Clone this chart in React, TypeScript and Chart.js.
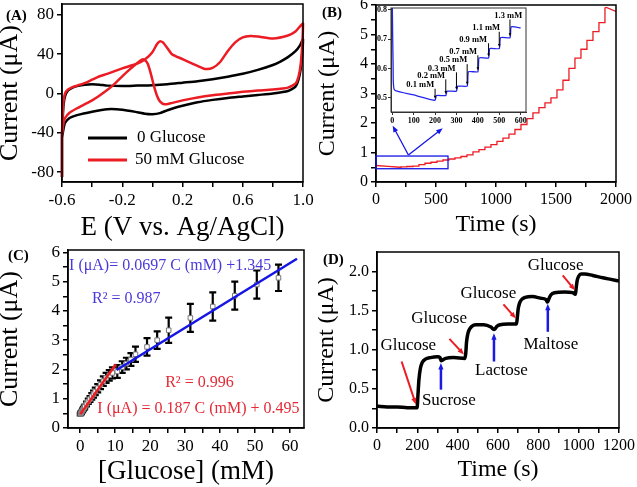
import React, { useEffect, useRef } from 'react';
import { Chart, registerables } from 'chart.js';
Chart.register(...registerables);

const SERIF = "'Liberation Serif', 'Times New Roman', serif";
const RED = '#ec1c24';
const BLUE = '#1515e6';
const TXT_BLUE = '#4a3ad8';
const TXT_RED = '#e32a36';

// ---------------- Panel A : cyclic voltammograms ----------------
const aBlackE = [-0.6, -0.6, -0.595, -0.59, -0.58, -0.56, -0.53, -0.5, -0.45, -0.4, -0.35, -0.3, -0.2, -0.1, 0.0, 0.1, 0.2, 0.3, 0.4, 0.5, 0.6, 0.7, 0.8, 0.85, 0.9, 0.95, 0.98, 1.0, 0.995, 0.985, 0.97, 0.95, 0.9, 0.8, 0.7, 0.6, 0.5, 0.4, 0.3, 0.2, 0.15, 0.1, 0.05, 0.0, -0.05, -0.1, -0.2, -0.3, -0.4, -0.5, -0.55, -0.58, -0.59, -0.6];
const aBlackI = [-85, -45, -25, -12, -3, 3, 6, 7.5, 9, 9.5, 9, 8, 7.5, 8, 8.5, 9.5, 11, 12.5, 14.5, 17, 20, 24, 29, 32.5, 37, 43, 49, 55, 40, 25, 14, 7, 2.5, 0, -1.5, -3, -4.5, -6.5, -9, -12.5, -14.5, -17, -20, -21, -20.5, -19, -16.5, -16, -18.5, -22, -25, -30, -36, -45];
const aRedE = [-0.6, -0.6, -0.595, -0.59, -0.58, -0.56, -0.53, -0.5, -0.45, -0.4, -0.35, -0.3, -0.2, -0.1, -0.05, 0.0, 0.03, 0.05, 0.07, 0.1, 0.13, 0.2, 0.3, 0.35, 0.4, 0.45, 0.5, 0.55, 0.6, 0.65, 0.7, 0.8, 0.9, 0.95, 1.0, 0.995, 0.985, 0.97, 0.95, 0.9, 0.8, 0.7, 0.6, 0.5, 0.4, 0.3, 0.2, 0.12, 0.08, 0.05, 0.03, 0.01, -0.01, -0.03, -0.05, -0.07, -0.1, -0.15, -0.2, -0.26, -0.3, -0.35, -0.4, -0.45, -0.5, -0.55, -0.58, -0.59, -0.6];
const aRedI = [-85, -42, -20, -8, 0, 4, 6.5, 8, 10.5, 14, 17.5, 20, 25.5, 30.5, 34.5, 42, 50, 53, 52, 46, 40, 35, 28, 25, 26, 32, 43, 52, 57, 58.5, 58, 56, 59, 63, 71, 50, 30, 17, 10, 6, 4, 3, 1.7, 0, -1.7, -4, -7, -10, -11, -8, -2, 8, 20, 30, 34, 34.5, 31, 24.5, 17.5, 8.5, 3.5, -2, -7, -11, -15, -19.5, -25, -30, -42];
const aXTicks = [-0.6, -0.4, -0.2, 0, 0.2, 0.4, 0.6, 0.8, 1.0];
const aXLabels = ['-0.6', '', '-0.2', '', '0.2', '', '0.6', '', '1.0'];
const aYTicks = [-80, -40, 0, 40, 80];
const aYLabels = ['-80', '-40', '0', '40', '80'];
const aLegend = ['0 Glucose', '50 mM Glucose'];

// ---------------- Panel B : amperometric staircase ----------------
const bStartT = [0, 100, 200];
const bStartI = [0.56, 0.53, 0.5];
const bStepT = [200, 250, 300, 350, 400, 450, 500, 550, 600, 650, 700, 750, 800, 850, 900, 950, 1000, 1050, 1100, 1150, 1200, 1250, 1300, 1350, 1400, 1450, 1500, 1550, 1600, 1650, 1700, 1750, 1800, 1850, 1900];
const bStepLevel = [0.51, 0.525, 0.54, 0.59, 0.635, 0.67, 0.705, 0.745, 0.78, 0.82, 0.865, 0.92, 1.02, 1.1, 1.18, 1.27, 1.38, 1.49, 1.62, 1.78, 1.95, 2.15, 2.34, 2.52, 2.68, 2.85, 3.12, 3.45, 3.85, 4.2, 4.5, 4.8, 5.1, 5.4, 5.9];
const bEndT = [1920, 2000];
const bEndI = [5.92, 5.78];
const bXTicks = [0, 250, 500, 750, 1000, 1250, 1500, 1750, 2000];
const bXLabels = ['0', '', '500', '', '1000', '', '1500', '', '2000'];
const bYTicks = [0, 0.5, 1, 1.5, 2, 2.5, 3, 3.5, 4, 4.5, 5, 5.5, 6];
const bYLabels = ['0', '', '1', '', '2', '', '3', '', '4', '', '5', '', '6'];
const bBox = [0, 600, 0.45, 0.88]; // t0, t1, I0, I1
const bZoomArrows = [[270, 0.915, 139, 1.91], [270, 0.915, 556, 1.82]];

// inset
const insetStartT = [0, 4, 10, 100, 200];
const insetStartI = [0.82, 0.6, 0.527, 0.51, 0.492];
const insetStepT = [200, 250, 300, 350, 400, 450, 500, 550];
const insetStepLevel = [0.508, 0.523, 0.54, 0.589, 0.636, 0.668, 0.705, 0.742];
const insetEndT = [600];
const insetEndI = [0.738];
const insetLabels = ['0.1 mM', '0.2 mM', '0.3 mM', '0.5 mM', '0.7 mM', '0.9 mM', '1.1 mM', '1.3 mM'];
const insetLabelT = [196, 247, 296, 350, 396, 443, 504, 607];
const insetLabelI = [0.544, 0.576, 0.6, 0.628, 0.658, 0.699, 0.738, 0.78];
const insetXTicks = [0, 100, 200, 300, 400, 500, 600];
const insetXLabels = ['0', '100', '200', '300', '400', '500', '600'];
const insetYTicks = [0.5, 0.6, 0.7, 0.8];
const insetYLabels = ['0.5', '0.6', '0.7', '0.8'];

// ---------------- Panel C : calibration ----------------
const cConc = [0, 0.1, 0.2, 0.3, 0.5, 0.7, 0.9, 1.1, 1.3, 1.8, 2.3, 2.8, 3.3, 3.8, 4.3, 5.0, 5.8, 6.6, 7.4, 8.3, 9.2, 10.6, 12.0, 13.2, 14.5, 15.8, 19.1, 22.0, 25.3, 31.5, 37.9, 44.2, 50.5, 56.7];
const cCurrent = [0.47, 0.49, 0.51, 0.53, 0.57, 0.61, 0.65, 0.69, 0.73, 0.82, 0.91, 0.99, 1.08, 1.16, 1.25, 1.36, 1.48, 1.6, 1.71, 1.8, 1.88, 1.93, 2.08, 2.2, 2.34, 2.52, 2.77, 3.0, 3.34, 3.76, 4.15, 4.52, 4.9, 5.13];
const cError = [0.04, 0.04, 0.05, 0.05, 0.05, 0.06, 0.06, 0.07, 0.07, 0.08, 0.09, 0.1, 0.11, 0.12, 0.13, 0.14, 0.15, 0.16, 0.17, 0.18, 0.19, 0.22, 0.2, 0.2, 0.22, 0.26, 0.3, 0.3, 0.43, 0.48, 0.48, 0.48, 0.48, 0.45];
const cRedFitX = [0, 10.2];
const cRedFitY = [0.47, 2.18];
const cBlueFitX = [10.4, 62];
const cBlueFitY = [1.98, 5.78];
const cXTicks = [0, 5, 10, 15, 20, 25, 30, 35, 40, 45, 50, 55, 60];
const cXLabels = ['0', '', '10', '', '20', '', '30', '', '40', '', '50', '', '60'];
const cYTicks = [0, 0.5, 1, 1.5, 2, 2.5, 3, 3.5, 4, 4.5, 5, 5.5, 6];
const cYLabels = ['0', '', '1', '', '2', '', '3', '', '4', '', '5', '', '6'];
const cNotes = ['I (μA)= 0.0697 C (mM) +1.345', 'R² = 0.987', 'R² = 0.996', 'I (μA) = 0.187 C (mM) + 0.495'];
const cNoteX = [-3.2, 3.4, 24.3, 4.9];
const cNoteY = [5.53, 4.43, 1.53, 0.67];
const cNoteColor = [TXT_BLUE, TXT_BLUE, TXT_RED, TXT_RED];

// ---------------- Panel D : interference test ----------------
const dT = [0, 50, 100, 150, 199, 203, 208, 215, 225, 240, 265, 300, 312, 318, 326, 340, 380, 436, 440, 444, 450, 458, 470, 490, 530, 565, 580, 586, 595, 610, 650, 692, 696, 700, 706, 716, 735, 770, 810, 838, 846, 852, 862, 880, 930, 970, 984, 988, 993, 1000, 1012, 1030, 1070, 1120, 1160, 1200];
const dI = [0.28, 0.27, 0.27, 0.26, 0.26, 0.42, 0.62, 0.76, 0.84, 0.88, 0.9, 0.91, 0.9, 0.86, 0.87, 0.89, 0.9, 0.89, 0.95, 1.1, 1.2, 1.26, 1.3, 1.32, 1.32, 1.29, 1.26, 1.27, 1.3, 1.32, 1.33, 1.33, 1.42, 1.52, 1.59, 1.64, 1.67, 1.68, 1.66, 1.64, 1.61, 1.65, 1.7, 1.73, 1.74, 1.73, 1.71, 1.8, 1.89, 1.94, 1.97, 1.97, 1.95, 1.92, 1.9, 1.88];
const dXTicks = [0, 100, 200, 300, 400, 500, 600, 700, 800, 900, 1000, 1100, 1200];
const dXLabels = ['0', '', '200', '', '400', '', '600', '', '800', '', '1000', '', '1200'];
const dYTicks = [0, 0.25, 0.5, 0.75, 1, 1.25, 1.5, 1.75, 2];
const dYLabels = ['0.0', '', '0.5', '', '1.0', '', '1.5', '', '2.0'];
const dNotes = ['Glucose', 'Sucrose', 'Glucose', 'Lactose', 'Glucose', 'Maltose', 'Glucose'];
const dNoteT = [155, 356, 308, 617, 552, 862, 886];
const dNoteI = [1.06, 0.35, 1.4, 0.73, 1.72, 1.07, 2.08];
const dRedArrows = [[122, 0.85, 193, 0.3], [359, 1.14, 431, 0.94], [627, 1.58, 689, 1.4], [921, 1.95, 982, 1.76]];
const dBlueArrows = [[317, 0.49, 317, 0.83], [580, 0.85, 580, 1.21], [847, 1.23, 847, 1.59]];

// ---------------- helpers ----------------
function pairs(xs: number[], ys: number[]) {
  return xs.map((x, i) => ({ x, y: ys[i] }));
}
function staircase(st: number[], si: number[], stepT: number[], stepL: number[], et: number[], ei: number[], rise: number) {
  const pts = pairs(st, si);
  stepT.forEach((t, i) => {
    pts.push({ x: t + rise, y: stepL[i] });
    if (i + 1 < stepT.length) pts.push({ x: stepT[i + 1], y: stepL[i] });
  });
  return pts.concat(pairs(et, ei));
}

function axis(o: any) {
  const horiz = o.position === 'bottom';
  const lw = o.lw ?? 1.5;
  const col = o.color ?? '#000';
  return {
    type: 'linear',
    position: o.position,
    min: o.min,
    max: o.max,
    afterBuildTicks: (sc: any) => {
      sc.ticks = o.ticks.map((v: number) => ({ value: v }));
    },
    afterFit: (sc: any) => {
      if (horiz) sc.height = o.size;
      else sc.width = o.size;
      sc.paddingLeft = 0;
      sc.paddingRight = 0;
      sc.paddingTop = 0;
      sc.paddingBottom = 0;
    },
    ticks: {
      autoSkip: false,
      maxRotation: 0,
      minRotation: 0,
      padding: o.pad ?? 3,
      color: '#000',
      font: { family: SERIF, size: o.font, weight: o.bold ? 'bold' : 'normal' },
      callback: (_v: any, i: number) => o.labels[i],
    },
    grid: {
      display: true,
      drawOnChartArea: false,
      drawTicks: true,
      tickLength: o.tickLen ?? 5,
      tickWidth: lw,
      tickColor: col,
      color: col,
      lineWidth: lw,
    },
    border: { display: true, color: col, width: lw },
    title: o.title
      ? {
          display: true,
          text: o.title,
          color: '#000',
          font: { family: SERIF, size: o.titleSize, lineHeight: 1 },
          padding: horiz ? { top: 0, bottom: o.titlePad } : { top: o.titlePad, bottom: 0 },
        }
      : { display: false },
  };
}

function baseOptions(pad: any, scales: any) {
  return {
    animation: false,
    responsive: false,
    maintainAspectRatio: false,
    layout: { padding: pad, autoPadding: false },
    plugins: { legend: { display: false }, tooltip: { enabled: false } },
    scales,
  };
}

function framePlugin(lw: number, color: string) {
  return {
    id: 'frame',
    afterDatasetsDraw(chart: any) {
      const { ctx, chartArea: a } = chart;
      ctx.save();
      ctx.strokeStyle = color;
      ctx.lineWidth = lw;
      ctx.strokeRect(a.left, a.top, a.right - a.left, a.bottom - a.top);
      ctx.restore();
    },
  };
}

function drawText(ctx: any, s: string, x: number, y: number, font: string, color: string, align = 'center') {
  ctx.save();
  ctx.font = font;
  ctx.fillStyle = color;
  ctx.textAlign = align;
  ctx.textBaseline = 'middle';
  ctx.fillText(s, x, y);
  ctx.restore();
}

function drawArrow(ctx: any, x1: number, y1: number, x2: number, y2: number, color: string, lw: number, head: number) {
  const ang = Math.atan2(y2 - y1, x2 - x1);
  ctx.save();
  ctx.strokeStyle = color;
  ctx.fillStyle = color;
  ctx.lineWidth = lw;
  ctx.beginPath();
  ctx.moveTo(x1, y1);
  ctx.lineTo(x2 - Math.cos(ang) * head * 0.7, y2 - Math.sin(ang) * head * 0.7);
  ctx.stroke();
  ctx.beginPath();
  ctx.moveTo(x2, y2);
  ctx.lineTo(x2 - head * Math.cos(ang - 0.38), y2 - head * Math.sin(ang - 0.38));
  ctx.lineTo(x2 - head * Math.cos(ang + 0.38), y2 - head * Math.sin(ang + 0.38));
  ctx.closePath();
  ctx.fill();
  ctx.restore();
}

function panelLabel(s: string, x: number, y: number) {
  return {
    id: 'panelLabel',
    afterDraw(chart: any) {
      drawText(chart.ctx, s, x, y, `bold 15px ${SERIF}`, '#000', 'left');
    },
  };
}

// ---------------- chart builders ----------------
function buildA() {
  const legendPlugin = {
    id: 'legendA',
    afterDraw(chart: any) {
      const { ctx, chartArea: a } = chart;
      const cols = ['#000', RED];
      aLegend.forEach((t, k) => {
        const y = a.top + 134 + k * 22;
        ctx.save();
        ctx.strokeStyle = cols[k];
        ctx.lineWidth = 3;
        ctx.beginPath();
        ctx.moveTo(a.left + 26, y);
        ctx.lineTo(a.left + 65, y);
        ctx.stroke();
        ctx.restore();
        drawText(ctx, t, a.left + (k === 0 ? 75 : 73), y, `17px ${SERIF}`, '#000', 'left');
      });
    },
  };
  return {
    type: 'scatter',
    data: {
      datasets: [
        { data: pairs(aRedE, aRedI), showLine: true, borderColor: RED, borderWidth: 2.5, pointRadius: 0, tension: 0.2, order: 1, clip: 3 },
        { data: pairs(aBlackE, aBlackI), showLine: true, borderColor: '#000', borderWidth: 2.5, pointRadius: 0, tension: 0.2, order: 2, clip: 3 },
      ],
    },
    options: baseOptions(
      { left: 0, right: 15, top: 4, bottom: 0 },
      {
        x: axis({ position: 'bottom', min: -0.6, max: 1.0, ticks: aXTicks, labels: aXLabels, font: 17, size: 63, title: 'E (V vs. Ag/AgCl)', titleSize: 27, titlePad: 4 }),
        y: axis({ position: 'left', min: -90, max: 91, ticks: aYTicks, labels: aYLabels, font: 17, size: 62, title: 'Current (μA)', titleSize: 26, titlePad: -3 }),
      }
    ),
    plugins: [framePlugin(1.5, '#000'), legendPlugin, panelLabel('(A)', 6, 16)],
  };
}

function buildB() {
  const deco = {
    id: 'decoB',
    afterDatasetsDraw(chart: any) {
      const { ctx } = chart;
      const xs = chart.scales.x;
      const ys = chart.scales.y;
      const l = xs.getPixelForValue(bBox[0]);
      const r = xs.getPixelForValue(bBox[1]);
      const t = ys.getPixelForValue(bBox[3]);
      const b = ys.getPixelForValue(bBox[2]);
      ctx.save();
      ctx.strokeStyle = BLUE;
      ctx.lineWidth = 1.3;
      ctx.strokeRect(l, t, r - l, b - t);
      ctx.restore();
      bZoomArrows.forEach(([x1, y1, x2, y2]) =>
        drawArrow(ctx, xs.getPixelForValue(x1), ys.getPixelForValue(y1), xs.getPixelForValue(x2), ys.getPixelForValue(y2), BLUE, 1.3, 7)
      );
    },
  };
  return {
    type: 'scatter',
    data: {
      datasets: [
        { data: staircase(bStartT, bStartI, bStepT, bStepLevel, bEndT, bEndI, 8), showLine: true, borderColor: RED, borderWidth: 1.3, pointRadius: 0, tension: 0 },
      ],
    },
    options: baseOptions(
      { left: 0, right: 21, top: 5, bottom: 0 },
      {
        x: axis({ position: 'bottom', min: 0, max: 2000, ticks: bXTicks, labels: bXLabels, font: 16, size: 63, title: 'Time (s)', titleSize: 24, titlePad: 8 }),
        y: axis({ position: 'left', min: 0, max: 6, ticks: bYTicks, labels: bYLabels, font: 16, size: 58, title: 'Current (μA)', titleSize: 24, titlePad: -2 }),
      }
    ),
    plugins: [framePlugin(1.5, '#000'), deco, panelLabel('(B)', 4, 13)],
  };
}

function buildInset() {
  const deco = {
    id: 'decoInset',
    afterDatasetsDraw(chart: any) {
      const { ctx } = chart;
      const xs = chart.scales.x;
      const ys = chart.scales.y;
      insetLabels.forEach((s, i) => {
        drawText(ctx, s, xs.getPixelForValue(insetLabelT[i]), ys.getPixelForValue(insetLabelI[i]), `bold 8.5px ${SERIF}`, '#000', 'right');
        const t = insetStepT[i];
        const before = i === 0 ? insetStartI[insetStartI.length - 1] : insetStepLevel[i - 1];
        drawArrow(ctx, xs.getPixelForValue(t), ys.getPixelForValue(insetLabelI[i] - 0.013), xs.getPixelForValue(t), ys.getPixelForValue(before + 0.004), '#000', 1, 3.5);
      });
    },
  };
  return {
    type: 'scatter',
    data: {
      datasets: [
        { data: staircase(insetStartT, insetStartI, insetStepT, insetStepLevel, insetEndT, insetEndI, 6), showLine: true, borderColor: '#2424ee', borderWidth: 1.3, pointRadius: 0, tension: 0.15 },
      ],
    },
    options: baseOptions(
      { left: 0, right: 6, top: 6, bottom: 0 },
      {
        x: axis({ position: 'bottom', min: -6, max: 625, ticks: insetXTicks, labels: insetXLabels, font: 8, bold: true, size: 15, lw: 1, color: '#333', tickLen: 3, pad: 1 }),
        y: axis({ position: 'left', min: 0.452, max: 0.806, ticks: insetYTicks, labels: insetYLabels, font: 8, bold: true, size: 19, lw: 1, color: '#333', tickLen: 3, pad: 1 }),
      }
    ),
    plugins: [framePlugin(1, '#333'), deco],
  };
}

function buildC() {
  const deco = {
    id: 'decoC',
    beforeDatasetsDraw(chart: any) {
      const { ctx } = chart;
      const xs = chart.scales.x;
      const ys = chart.scales.y;
      ctx.save();
      ctx.strokeStyle = '#000';
      ctx.lineWidth = 2.2;
      cConc.forEach((c, i) => {
        const px = xs.getPixelForValue(c);
        const top = ys.getPixelForValue(cCurrent[i] + cError[i]);
        const bot = ys.getPixelForValue(cCurrent[i] - cError[i]);
        ctx.beginPath();
        ctx.moveTo(px, top);
        ctx.lineTo(px, bot);
        ctx.moveTo(px - 3.5, top);
        ctx.lineTo(px + 3.5, top);
        ctx.moveTo(px - 3.5, bot);
        ctx.lineTo(px + 3.5, bot);
        ctx.stroke();
      });
      ctx.restore();
    },
    afterDatasetsDraw(chart: any) {
      const { ctx } = chart;
      const xs = chart.scales.x;
      const ys = chart.scales.y;
      cNotes.forEach((s, i) => {
        drawText(ctx, s, xs.getPixelForValue(cNoteX[i]), ys.getPixelForValue(cNoteY[i]), `16px ${SERIF}`, cNoteColor[i], 'left');
      });
    },
  };
  return {
    type: 'scatter',
    data: {
      datasets: [
        { data: pairs(cConc, cCurrent), pointStyle: 'rect', pointRadius: 3.2, backgroundColor: '#fff', borderColor: '#777', borderWidth: 1, order: 2 },
        { data: pairs(cRedFitX, cRedFitY), showLine: true, borderColor: RED, borderWidth: 2.5, pointRadius: 0, order: 1 },
        { data: pairs(cBlueFitX, cBlueFitY), showLine: true, borderColor: BLUE, borderWidth: 2.5, pointRadius: 0, order: 1 },
      ],
    },
    options: baseOptions(
      { left: 0, right: 14, top: 5, bottom: 0 },
      {
        x: axis({ position: 'bottom', min: -3.5, max: 64, ticks: cXTicks, labels: cXLabels, font: 17, size: 59, title: '[Glucose] (mM)', titleSize: 27, titlePad: 1.5 }),
        y: axis({ position: 'left', min: 0, max: 6.08, ticks: cYTicks, labels: cYLabels, font: 17, size: 68, title: 'Current (μA)', titleSize: 26, titlePad: -2.5 }),
      }
    ),
    plugins: [framePlugin(1.5, '#000'), deco, panelLabel('(C)', 8, 11)],
  };
}

function buildD() {
  const deco = {
    id: 'decoD',
    afterDatasetsDraw(chart: any) {
      const { ctx } = chart;
      const xs = chart.scales.x;
      const ys = chart.scales.y;
      dRedArrows.forEach(([x1, y1, x2, y2]) =>
        drawArrow(ctx, xs.getPixelForValue(x1), ys.getPixelForValue(y1), xs.getPixelForValue(x2), ys.getPixelForValue(y2), RED, 2, 7)
      );
      dBlueArrows.forEach(([x1, y1, x2, y2]) =>
        drawArrow(ctx, xs.getPixelForValue(x1), ys.getPixelForValue(y1), xs.getPixelForValue(x2), ys.getPixelForValue(y2), '#1a1ae0', 2.5, 7)
      );
      dNotes.forEach((s, i) => {
        drawText(ctx, s, xs.getPixelForValue(dNoteT[i]), ys.getPixelForValue(dNoteI[i]), `17px ${SERIF}`, '#000', 'center');
      });
    },
  };
  return {
    type: 'scatter',
    data: {
      datasets: [
        { data: pairs(dT, dI), showLine: true, borderColor: '#000', borderWidth: 3.5, pointRadius: 0, cubicInterpolationMode: 'monotone' },
      ],
    },
    options: baseOptions(
      { left: 0, right: 18, top: 7, bottom: 0 },
      {
        x: axis({ position: 'bottom', min: 0, max: 1200, ticks: dXTicks, labels: dXLabels, font: 16, size: 59, title: 'Time (s)', titleSize: 24, titlePad: 5 }),
        y: axis({ position: 'left', min: 0, max: 2.25, ticks: dYTicks, labels: dYLabels, font: 16, size: 59, title: 'Current (μA)', titleSize: 24, titlePad: -3 }),
      }
    ),
    plugins: [framePlugin(1.5, '#000'), deco, panelLabel('(D)', 5, 15)],
  };
}

function Panel({ x, y, w, h, build }: { x: number; y: number; w: number; h: number; build: () => any }) {
  const ref = useRef<HTMLCanvasElement>(null);
  useEffect(() => {
    const chart = new Chart(ref.current as HTMLCanvasElement, build());
    return () => chart.destroy();
  }, []);
  return <canvas ref={ref} width={w} height={h} style={{ position: 'absolute', left: x, top: y, width: w, height: h }} />;
}

export default function App() {
  return (
    <div style={{ position: 'fixed', left: 0, top: 0, width: 637, height: 487, background: '#fff', overflow: 'hidden' }}>
      <Panel x={0} y={0} w={318} h={245} build={buildA} />
      <Panel x={318} y={0} w={319} h={245} build={buildB} />
      <Panel x={372} y={2} w={160} h={125} build={buildInset} />
      <Panel x={0} y={245} w={318} h={242} build={buildC} />
      <Panel x={318} y={245} w={319} h={242} build={buildD} />
    </div>
  );
}
